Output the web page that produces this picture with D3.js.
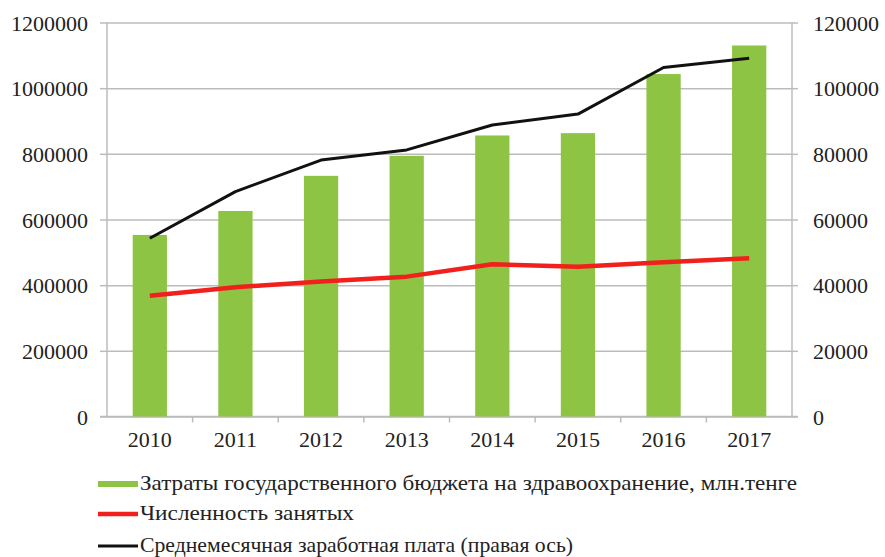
<!DOCTYPE html>
<html>
<head>
<meta charset="utf-8">
<script src="https://cdn.jsdelivr.net/npm/d3@7"></script>
<style>
  body { margin: 0; background: #fff; }
  #chart text { font-family: "Times New Roman", Times, "Liberation Serif", "DejaVu Serif", "Noto Serif", serif !important; }
</style>
</head>
<body>
<svg id="chart" width="885" height="557"></svg>
<script>
const years = ['2010', '2011', '2012', '2013', '2014', '2015', '2016', '2017']
// бюджет на здравоохранение, млн. тенге (left axis)
const budget = [553000, 626000, 733000, 794000, 856000, 863000, 1043000, 1130000]
// численность занятых (left axis)
const employed = [368000, 394000, 411000, 426000, 464000, 456000, 470000, 482000]
// среднемесячная заработная плата (right axis)
const salary = [54300, 68500, 78100, 81200, 88800, 92100, 106300, 109100]
const leftTicks = [0, 200000, 400000, 600000, 800000, 1000000, 1200000]
const rightTicks = [0, 20000, 40000, 60000, 80000, 100000, 120000]
const legendLabels = [
  'Затраты государственного бюджета на здравоохранение, млн.тенге',
  'Численность занятых',
  'Среднемесячная заработная плата (правая ось)',
]

const svg = d3.select('#chart')
const m = {left: 107, right: 792, top: 22.5, bottom: 416.5}
const gridColor = '#bcbcbc'

const x = d3.scaleBand().domain(years).range([m.left, m.right])
const yL = d3.scaleLinear().domain([0, 1200000]).range([m.bottom, m.top])
const yR = d3.scaleLinear().domain([0, 120000]).range([m.bottom, m.top])

const styleText = (sel) =>
  sel.style('font-size', '22px').attr('fill', '#222')

// gridlines + left axis
const leftAxis = svg.append('g')
  .attr('transform', `translate(${m.left},0)`)
  .call(d3.axisLeft(yL).tickValues(leftTicks).tickFormat(d3.format('d')).tickSize(7).tickPadding(12))
leftAxis.attr('font-family', null)
leftAxis.selectAll('.tick line').clone()
  .attr('x2', m.right - m.left)
leftAxis.selectAll('line, path').attr('stroke', gridColor).attr('stroke-width', 1.5)
leftAxis.select('.domain').attr('d', `M0,${m.top}V${m.bottom}`)
leftAxis.selectAll('text').call(styleText).attr('dy', '0.35em')

// right axis
const rightAxis = svg.append('g')
  .attr('transform', `translate(${m.right},0)`)
  .call(d3.axisRight(yR).tickValues(rightTicks).tickFormat(d3.format('d')).tickSize(6).tickPadding(15))
rightAxis.attr('font-family', null)
rightAxis.selectAll('line, path').attr('stroke', gridColor).attr('stroke-width', 1.5)
rightAxis.select('.domain').attr('d', `M0,${m.top}V${m.bottom}`)
rightAxis.selectAll('text').call(styleText).attr('dy', '0.35em')

// bottom axis
const bottomAxis = svg.append('g')
  .attr('transform', `translate(0,${m.bottom})`)
  .call(d3.axisBottom(x).tickSize(0).tickPadding(15))
bottomAxis.attr('font-family', null)
bottomAxis.select('.domain').attr('stroke', gridColor).attr('stroke-width', 1.5)
  .attr('d', `M${m.left - 7},0H${m.right + 6}`)
bottomAxis.selectAll('text').call(styleText)
bottomAxis.selectAll('line.sep')
  .data(years.slice(1))
  .join('line')
  .attr('class', 'sep')
  .attr('x1', (d) => x(d)).attr('x2', (d) => x(d))
  .attr('y1', 0).attr('y2', 6)
  .attr('stroke', gridColor).attr('stroke-width', 1.5)

// bars
const barW = x.bandwidth() * 0.4
svg.append('g')
  .selectAll('rect')
  .data(budget)
  .join('rect')
  .attr('x', (d, i) => x(years[i]) + (x.bandwidth() - barW) / 2)
  .attr('y', (d) => yL(d))
  .attr('width', barW)
  .attr('height', (d) => m.bottom - yL(d))
  .attr('fill', '#8dc443')

const cx = (i) => x(years[i]) + x.bandwidth() / 2

// red line (employed)
svg.append('path')
  .datum(employed)
  .attr('d', d3.line().x((d, i) => cx(i)).y((d) => yL(d)))
  .attr('fill', 'none')
  .attr('stroke', '#f2201c')
  .attr('stroke-width', 4.5)
  .attr('stroke-linejoin', 'round')

// black line (salary)
svg.append('path')
  .datum(salary)
  .attr('d', d3.line().x((d, i) => cx(i)).y((d) => yR(d)))
  .attr('fill', 'none')
  .attr('stroke', '#111')
  .attr('stroke-width', 3)
  .attr('stroke-linejoin', 'round')

// legend
const legend = svg.append('g')
const rows = [
  {y: 484, color: '#8dc443', w: 6, len: 657},
  {y: 514, color: '#f2201c', w: 4.5, len: 214},
  {y: 546, color: '#111', w: 3, len: 433},
]
rows.forEach((r, i) => {
  legend.append('line')
    .attr('x1', 98).attr('x2', 138)
    .attr('y1', r.y).attr('y2', r.y)
    .attr('stroke', r.color).attr('stroke-width', r.w)
  legend.append('text')
    .attr('x', 140)
    .attr('y', r.y + 6)
    .attr('textLength', r.len)
    .attr('lengthAdjust', 'spacingAndGlyphs')
    .call(styleText)
    .style('font-size', '21px')
    .text(legendLabels[i])
})
</script>
</body>
</html>
